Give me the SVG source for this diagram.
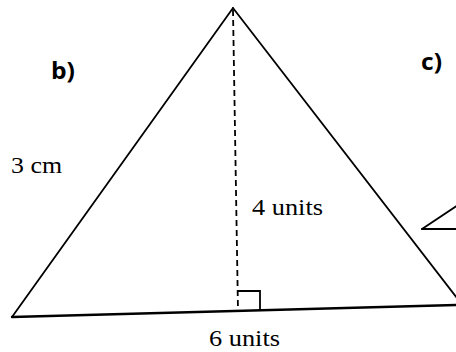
<svg xmlns="http://www.w3.org/2000/svg" width="456" height="352" viewBox="0 0 456 352">
<style>
.s{fill:none;stroke:#000;stroke-width:1.8;stroke-linecap:round}
.lbl{font-family:"Liberation Serif",serif;font-size:24px;fill:#000}
.hd{font-family:"Open Sans","Liberation Sans",sans-serif;font-weight:bold;font-size:23px;fill:#000}
</style>
<rect width="456" height="352" fill="#fff"/>
<g id="triangle">
<line class="s" x1="12" y1="317" x2="233" y2="8"/>
<line class="s" x1="233" y1="8" x2="457" y2="298"/>
<line class="s" x1="12" y1="317" x2="457" y2="305" style="stroke-width:2.4"/>
</g>
<g id="height">
<line class="s" x1="233" y1="10" x2="238" y2="311" stroke-dasharray="6,4" style="stroke-linecap:butt"/>
<polyline class="s" points="238,291 260,291 260,311" style="stroke-linecap:butt"/>
</g>
<g id="triangle-c">
<line class="s" x1="422" y1="229" x2="458" y2="205"/>
<line class="s" x1="422" y1="229" x2="458" y2="229"/>
</g>
<g id="labels">
<text class="hd" x="51" y="79" textLength="24" lengthAdjust="spacingAndGlyphs">b)</text>
<text class="hd" x="421" y="70" textLength="21" lengthAdjust="spacingAndGlyphs">c)</text>
<text class="lbl" x="11" y="173" textLength="51" lengthAdjust="spacingAndGlyphs">3 cm</text>
<text class="lbl" x="252" y="215" textLength="71" lengthAdjust="spacingAndGlyphs">4 units</text>
<text class="lbl" x="209" y="346" textLength="71" lengthAdjust="spacingAndGlyphs">6 units</text>
</g>
</svg>
